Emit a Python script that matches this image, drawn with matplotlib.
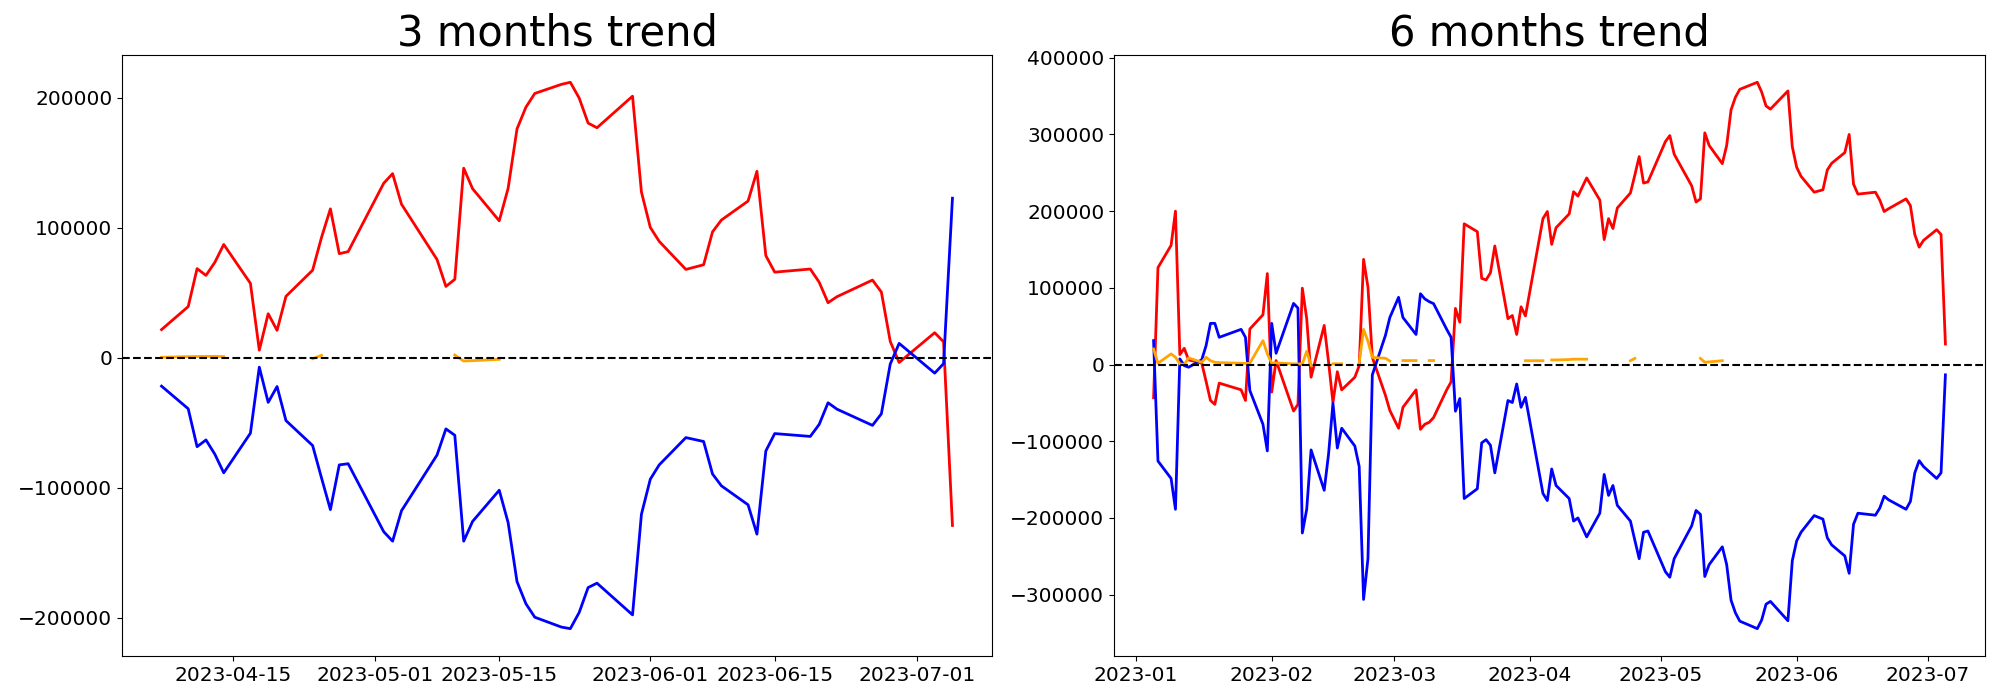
import numpy as np
import pandas as pd
import matplotlib
matplotlib.use("Agg")
import matplotlib.pyplot as plt

nan = np.nan

# ---------------- 3 months panel ----------------
dates_3m = ["2023-04-07", "2023-04-10", "2023-04-11", "2023-04-12", "2023-04-13", "2023-04-14",
            "2023-04-17", "2023-04-18", "2023-04-19", "2023-04-20", "2023-04-21",
            "2023-04-24", "2023-04-25", "2023-04-26", "2023-04-27", "2023-04-28",
            "2023-05-02", "2023-05-03", "2023-05-04", "2023-05-08", "2023-05-09",
            "2023-05-10", "2023-05-11", "2023-05-12", "2023-05-15", "2023-05-16",
            "2023-05-17", "2023-05-18", "2023-05-19", "2023-05-22", "2023-05-23",
            "2023-05-24", "2023-05-25", "2023-05-26", "2023-05-30", "2023-05-31",
            "2023-06-01", "2023-06-02", "2023-06-05", "2023-06-07", "2023-06-08",
            "2023-06-09", "2023-06-12", "2023-06-13", "2023-06-14", "2023-06-15",
            "2023-06-19", "2023-06-20", "2023-06-21", "2023-06-22", "2023-06-26",
            "2023-06-27", "2023-06-28", "2023-06-29", "2023-07-03", "2023-07-04",
            "2023-07-05"]
red_3m = [21600, 39300, 68500, 63300, 73400, 87100,
          57200, 5800, 33800, 21000, 47200,
          67300, 92500, 114500, 80000, 81600,
          134200, 141600, 118100, 75500, 54800,
          60300, 145800, 130000, 105300, 130300,
          176000, 192700, 203300, 210300, 211900,
          199700, 180500, 176900, 201200, 127500,
          100200, 89500, 67900, 71500, 96800,
          105900, 120500, 143400, 78500, 65800,
          68200, 58100, 42300, 46900, 59700,
          50500, 12500, -3700, 19200, 12200,
          -129100]
blue_3m = [-21900, -39300, -68500, -63300, -74300, -88600,
           -58100, -7300, -34400, -22200, -48400,
           -67600, -92500, -116900, -82500, -81600,
           -133900, -141200, -117800, -74900, -54800,
           -59700, -141200, -126000, -102000, -126900,
           -172300, -189300, -199700, -207300, -208500,
           -196000, -176900, -173500, -197900, -120500,
           -93500, -82500, -61500, -64500, -89500,
           -98600, -113200, -135800, -71800, -58400,
           -60600, -51400, -34700, -39600, -52100,
           -43200, -4900, 11000, -11900, -4600,
           122700]
orange_3m = [300, 800, 900, 1000, 1000, 800,
             nan, nan, nan, nan, nan,
             -800, 1800, nan, nan, nan,
             nan, nan, nan, nan, nan,
             2000, -2600, -2300, -1300, nan,
             nan, nan, nan, nan, nan,
             nan, nan, nan, nan, nan,
             nan, nan, nan, nan, nan,
             nan, nan, nan, nan, nan,
             nan, nan, nan, nan, nan,
             nan, nan, nan, nan, nan,
             nan]

# ---------------- 6 months panel ----------------
dates_6m = ["2023-01-05", "2023-01-06", "2023-01-09", "2023-01-10", "2023-01-11", "2023-01-12",
            "2023-01-13", "2023-01-16", "2023-01-17", "2023-01-18", "2023-01-19", "2023-01-20",
            "2023-01-25", "2023-01-26", "2023-01-27", "2023-01-30", "2023-01-31", "2023-02-01",
            "2023-02-02", "2023-02-06", "2023-02-07", "2023-02-08", "2023-02-09", "2023-02-10",
            "2023-02-13", "2023-02-14", "2023-02-15", "2023-02-16", "2023-02-17", "2023-02-20",
            "2023-02-21", "2023-02-22", "2023-02-23", "2023-02-24", "2023-02-27", "2023-02-28",
            "2023-03-02", "2023-03-03", "2023-03-06", "2023-03-07", "2023-03-08", "2023-03-09",
            "2023-03-10", "2023-03-13", "2023-03-14", "2023-03-15", "2023-03-16", "2023-03-17",
            "2023-03-20", "2023-03-21", "2023-03-22", "2023-03-23", "2023-03-24", "2023-03-27",
            "2023-03-28", "2023-03-29", "2023-03-30", "2023-03-31", "2023-04-04", "2023-04-05",
            "2023-04-06", "2023-04-07", "2023-04-10", "2023-04-11", "2023-04-12", "2023-04-14",
            "2023-04-17", "2023-04-18", "2023-04-19", "2023-04-20", "2023-04-21", "2023-04-24",
            "2023-04-25", "2023-04-26", "2023-04-27", "2023-04-28", "2023-05-02", "2023-05-03",
            "2023-05-04", "2023-05-08", "2023-05-09", "2023-05-10", "2023-05-11", "2023-05-12",
            "2023-05-15", "2023-05-16", "2023-05-17", "2023-05-18", "2023-05-19", "2023-05-23",
            "2023-05-24", "2023-05-25", "2023-05-26", "2023-05-30", "2023-05-31", "2023-06-01",
            "2023-06-02", "2023-06-05", "2023-06-07", "2023-06-08", "2023-06-09", "2023-06-12",
            "2023-06-13", "2023-06-14", "2023-06-15", "2023-06-19", "2023-06-20", "2023-06-21",
            "2023-06-22", "2023-06-26", "2023-06-27", "2023-06-28", "2023-06-29", "2023-06-30",
            "2023-07-03", "2023-07-04", "2023-07-05"]
red_6m = [-43300, 126400, 155400, 200000, 13000, 21200,
          6100, 2000, -22000, -46800, -51900, -24200,
          -32900, -46800, 46300, 64900, 118600, -35900,
          5200, -60600, -51900, 99600, 60000, -16500,
          51000, 3100, -49500, -9300, -33000, -16500,
          -1500, 137100, 101000, 9300, -40200, -59800,
          -83000, -55700, -33000, -84500, -77800, -75300,
          -69100, -33000, -22700, 73200, 55200, 183500,
          173200, 112400, 110300, 119600, 154600, 59800,
          63900, 39200, 75300, 63400, 190200, 199500,
          156700, 178400, 196400, 225300, 219600, 243300,
          214400, 162900, 190200, 177300, 204100, 223700,
          246900, 271100, 236600, 238100, 290700, 298500,
          274200, 233000, 211900, 216000, 302100, 285600,
          261900, 285600, 332000, 348500, 358800, 368000,
          355200, 337100, 333000, 356700, 284000, 257200,
          245400, 224700, 227800, 253600, 262400, 276300,
          300000, 235100, 222200, 224700, 214400, 199500,
          203100, 216000, 207200, 169600, 153100, 161900,
          175800, 169600, 26800]
blue_6m = [31200, -125800, -148500, -188700, 7400, -1300,
           -3500, 6100, 24700, 53700, 53700, 35500,
           45900, 35500, -33800, -77900, -112600, 53700,
           14700, 79700, 73600, -219600, -188700, -111300,
           -163900, -116500, -50500, -108800, -83000, -106200,
           -133000, -306200, -253100, -13400, 38100, 61300,
           87600, 61300, 39200, 92300, 85600, 82000,
           79400, 45900, 35600, -60800, -44300, -174700,
           -161900, -102100, -97900, -105200, -141200, -46900,
           -49500, -25300, -55700, -42800, -168000, -177300,
           -136100, -157700, -174700, -204100, -200000, -224700,
           -193800, -143300, -170600, -157700, -183500, -204100,
           -228900, -253100, -218600, -217000, -270100, -277300,
           -253100, -210300, -190200, -195400, -276300, -260800,
           -237600, -260800, -307200, -323700, -334500, -344300,
           -333000, -312400, -308800, -334000, -255700, -229900,
           -218600, -196900, -201500, -225800, -235100, -249500,
           -272200, -208200, -193800, -196400, -187100, -171600,
           -176300, -188700, -178400, -141200, -125300, -133000,
           -148500, -141200, -13400]
orange_6m = [20300, 1700, 13900, 9500, 900, 0,
             8700, 3000, 9500, 5000, 3000, 2500,
             1700, 1500, 1700, 31200, 14000, 1700,
             2200, 900, 900, 900, 17300, -1000,
             nan, nan, 1000, 1000, 1000, nan,
             2000, 45900, 30400, 9300, 8200, 4600,
             nan, 5200, 5200, nan, nan, 5200,
             5200, nan, nan, nan, nan, nan,
             nan, nan, nan, nan, nan, nan,
             nan, nan, nan, 5000, 5000, nan,
             6000, 6000, 6500, 7000, 7000, 7000,
             nan, nan, nan, nan, nan, 5000,
             8000, nan, nan, nan, nan, nan,
             nan, nan, nan, 8000, 3000, 3500,
             5000, nan, nan, nan, nan, nan,
             nan, nan, nan, nan, nan, nan,
             nan, nan, nan, nan, nan, nan,
             nan, nan, nan, nan, nan, nan,
             nan, nan, nan, nan, nan, nan,
             nan, nan, nan]

titles = ["3 months trend", "6 months trend"]

fig = plt.figure(figsize=(20, 7), dpi=100)
ax1 = fig.add_axes([0.061, 0.0629, 0.435, 0.8586])
ax2 = fig.add_axes([0.557, 0.0629, 0.4355, 0.8586])

panels = [
    (ax1, dates_3m, red_3m, blue_3m, orange_3m, titles[0]),
    (ax2, dates_6m, red_6m, blue_6m, orange_6m, titles[1]),
]
for ax, d, r, b, o, t in panels:
    x = pd.to_datetime(d)
    ax.plot(x, r, color="red", lw=2)
    ax.plot(x, b, color="blue", lw=2)
    ax.plot(x, o, color="orange", lw=2)
    ax.axhline(0, color="black", ls="--", lw=1.5)
    ax.set_title(t, fontsize=30)
    ax.tick_params(axis="both", labelsize=14.5)

fig.savefig("out.png", dpi=100)
